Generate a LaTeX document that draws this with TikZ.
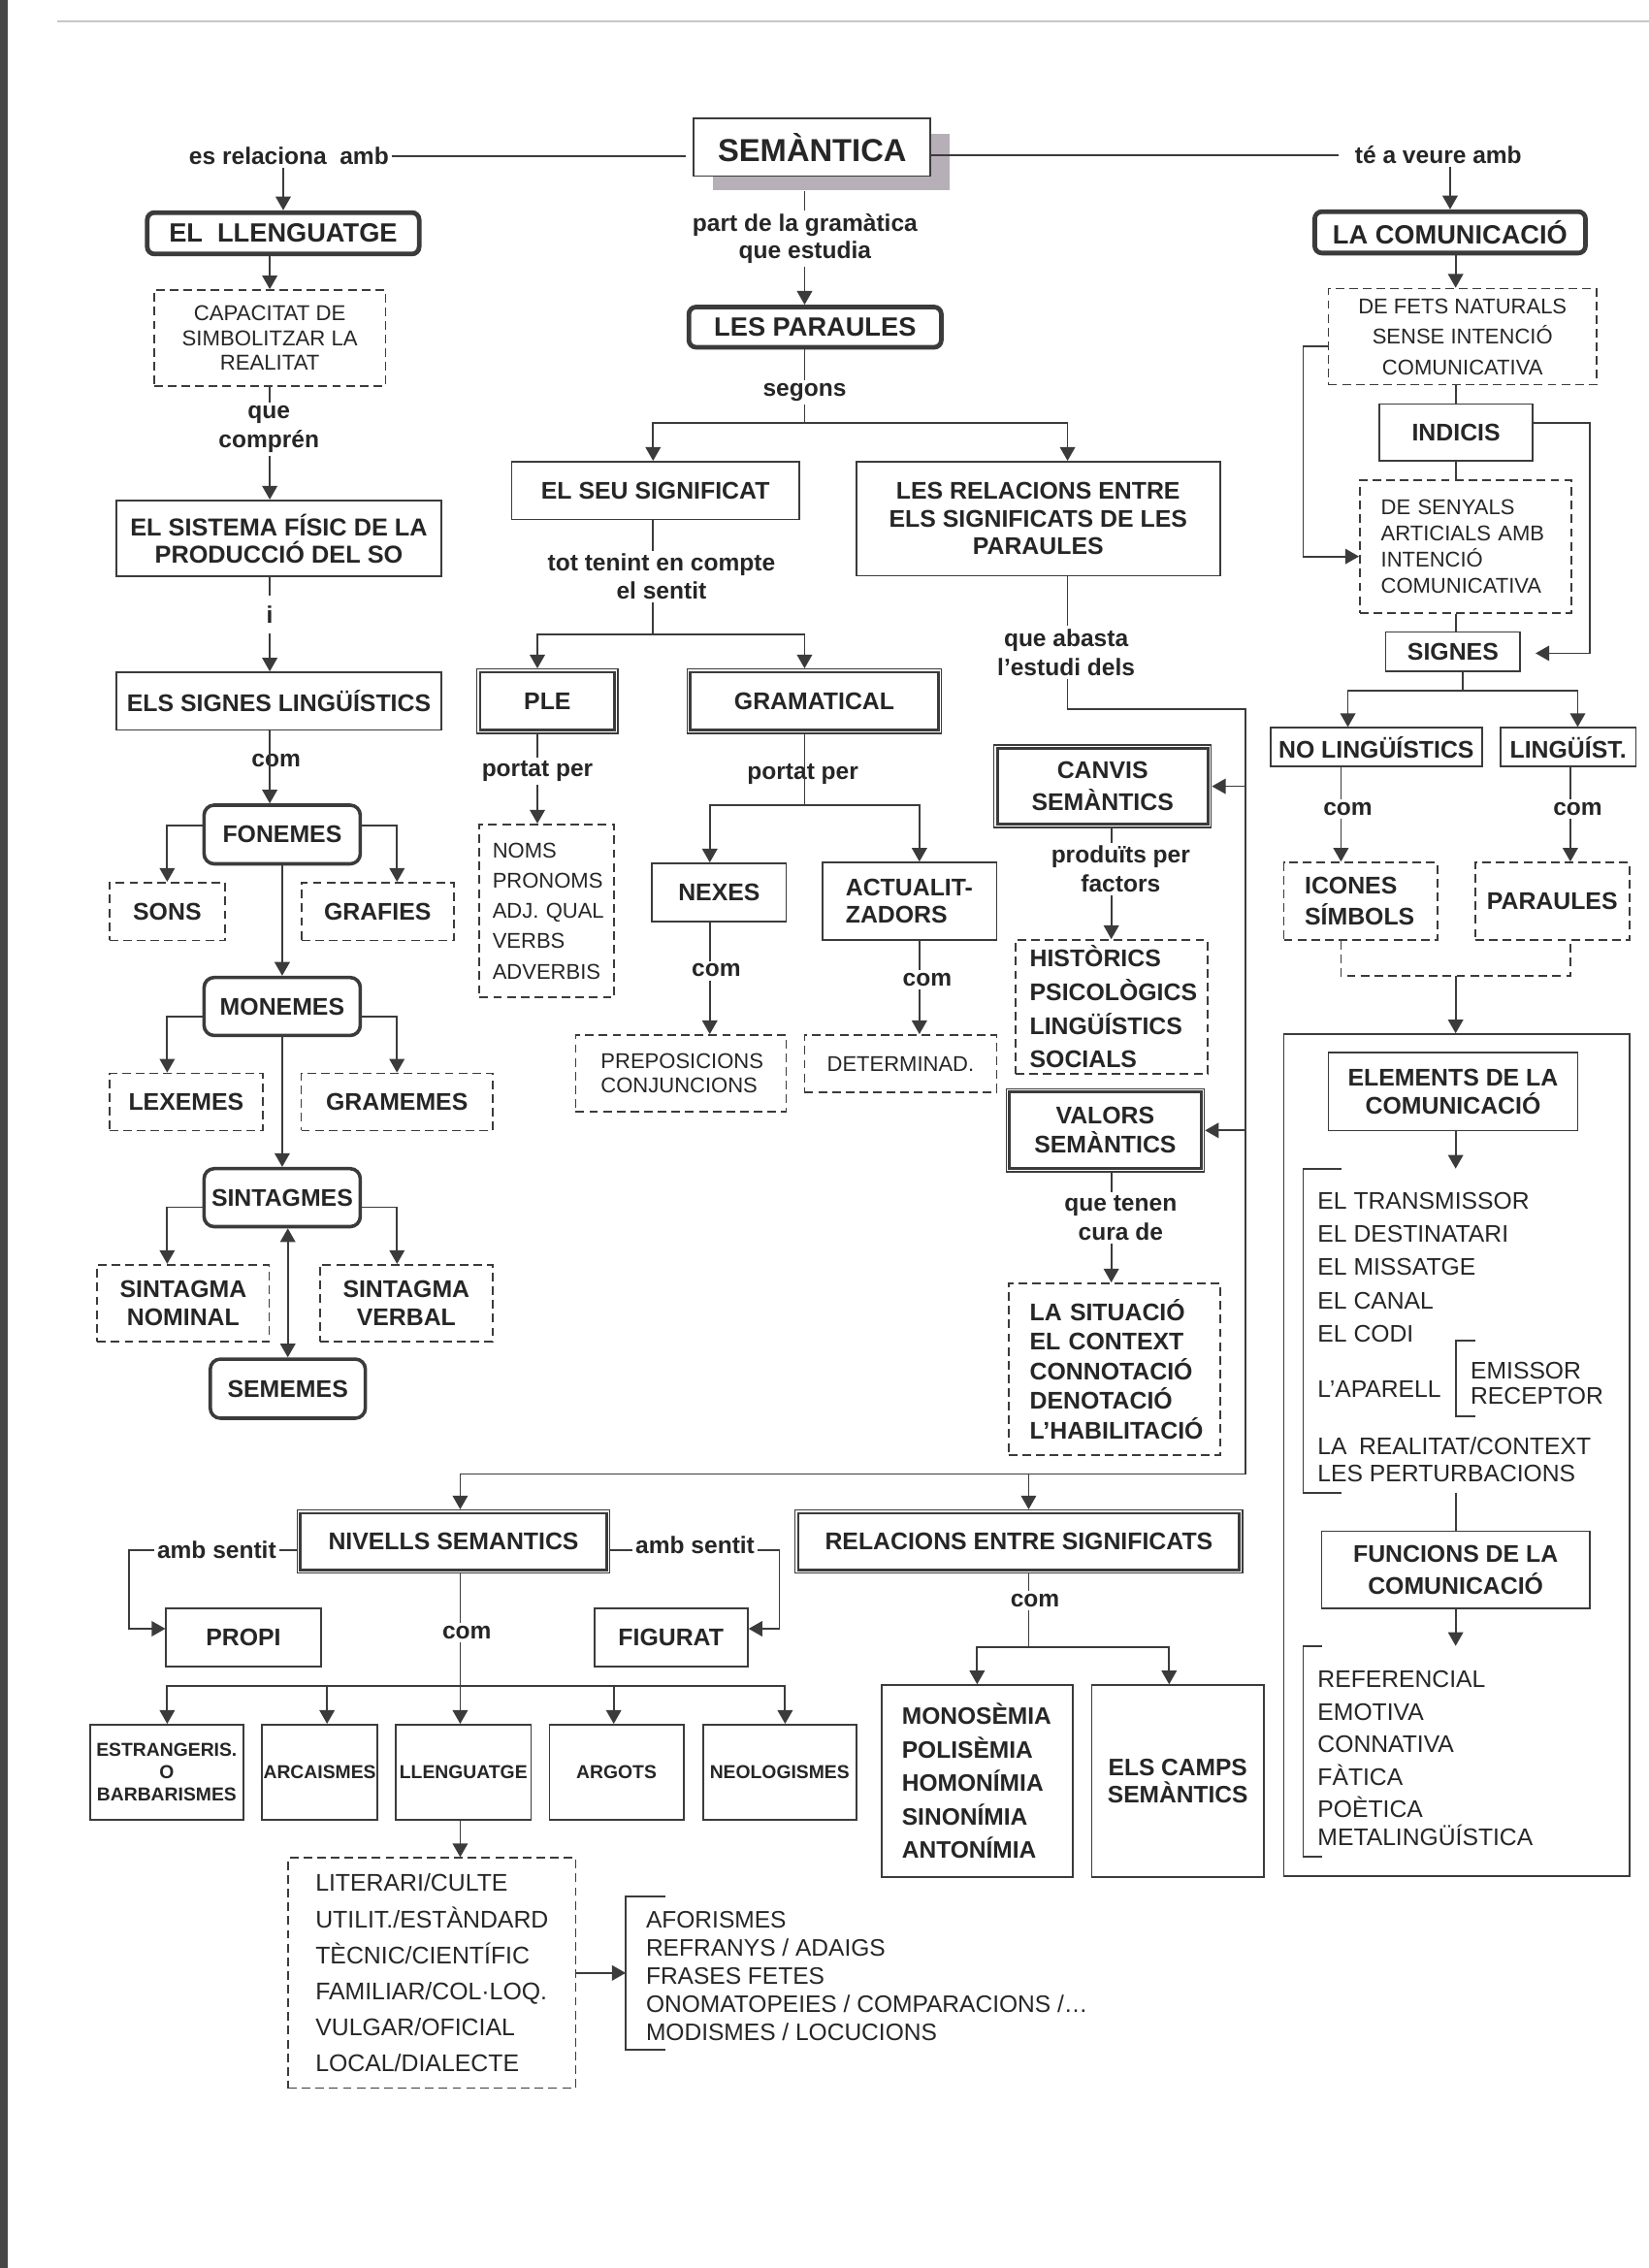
\documentclass[tikz,border=0pt]{standalone}
\usepackage{fontspec}
\setmainfont{Liberation Sans}
\usetikzlibrary{arrows.meta}
\definecolor{ink}{HTML}{262626}
\definecolor{lnc}{HTML}{3B3B3B}
\definecolor{shade}{HTML}{B6AFB7}
\newcommand\fsz[2]{\fontsize{#1}{#2}\selectfont}
\tikzset{
 every node/.style={text=ink},
 ln/.style={draw=lnc, line width=1.2pt},
 arr/.style={ln, -{Triangle[length=9.5pt,width=10.5pt]}},
 darr/.style={ln, {Triangle[length=9.5pt,width=10.5pt]}-{Triangle[length=9.5pt,width=10.5pt]}},
 dsh/.style={ln, dash pattern=on 6pt off 3.5pt},
 lbl/.style={font=\fsz{16.5}{20}\bfseries, align=center, inner sep=2pt},
 bx/.style 2 args={minimum width=#1, minimum height=#2, inner sep=0pt, align=center},
 tbox/.style={draw=lnc, line width=3.2pt, rounded corners=5pt, fill=white, font=\fsz{18.3}{22}\bfseries},
 rbox/.style={draw=lnc, line width=2.4pt, rounded corners=7pt, fill=white, font=\fsz{16.7}{20}\bfseries},
 pbox/.style={draw=lnc, line width=1.2pt, fill=white, font=\fsz{16.7}{20}\bfseries},
 dbox/.style={draw=lnc, line width=1.2pt, dash pattern=on 6pt off 3.5pt, fill=white, font=\fsz{16.7}{20}\bfseries},
 small/.style={pbox, font=\fsz{13}{15.5}\bfseries},
 dbl/.style={draw=lnc, line width=0.9pt, font=\fsz{16.7}{20}\bfseries,
   append after command={\pgfextra{\draw[lnc, line width=1.9pt]
     ([shift={(2.7pt,2.7pt)}]\tikzlastnode.south west) rectangle
     ([shift={(-2.7pt,-2.7pt)}]\tikzlastnode.north east);}}},
 lst/.style={anchor=west, align=left, inner sep=0pt, font=\fsz{16.6}{23}\selectfont},
}
\begin{document}
\hyphenpenalty=10000 \exhyphenpenalty=10000 \uchyph=0
\begin{tikzpicture}[x=1pt,y=-1pt]
\useasboundingbox (0,0) rectangle (1143,1572);
\fill[white] (0,0) rectangle (1143,1572);
\fill[black!72] (0,0) rectangle (5.5,1572);
\draw[black!22, line width=1.2pt] (40,14.6) -- (1143,14.6);

% ---------------- top ----------------
\node[bx={164pt}{39pt}, fill=shade] (semsh) at (576,112.5) {};
\node[bx={164pt}{40pt}, pbox, font=\fsz{22}{24}\bfseries] (sem) at (563,102) {SEMÀNTICA};
\node[lbl] (rel) at (200.3,108) {es relaciona\hspace{0.55em}amb};
\node[lbl] (tev) at (997,107.6) {té a veure amb};
\draw[ln, shorten >=5pt] (rel.east) -- (rel.east -| sem.west);
\draw[ln, shorten >=9pt] (sem.east |- tev.west) -- (tev.west);

% ---------------- left column ----------------
\node[bx={188.5pt}{28.7pt}, tbox] (llen) at (196.3,161.7) {EL\hspace{0.55em}LLENGUATGE};
\node[bx={160.4pt}{66.5pt}, dbox, font=\fsz{14.9}{17.3}\selectfont] (cap) at (187,234.3) {CAPACITAT DE\\SIMBOLITZAR LA\\REALITAT};
\node[lbl] (que) at (186.4,297.5) {que\\comprén};
\node[bx={225.5pt}{52.8pt}, pbox, font=\fsz{17}{19}\bfseries] (sis) at (193.3,373.2) {EL SISTEMA FÍSIC DE LA\\PRODUCCIÓ DEL SO};
\node[lbl] (i) at (187,425.8) {i};
\node[bx={225.5pt}{40pt}, pbox] (sig) at (193.3,486) {ELS SIGNES LINGÜÍSTICS};
\node[lbl] (com1) at (191.4,527) {com};
\node[bx={108.3pt}{40.7pt}, rbox] (fon) at (195.6,578.4) {FONEMES};
\node[bx={80.2pt}{40.1pt}, dbox] (sons) at (115.9,631.8) {SONS};
\node[bx={105.7pt}{40.1pt}, dbox] (graf) at (261.7,631.8) {GRAFIES};
\node[bx={108.3pt}{40.2pt}, rbox] (mon) at (195.6,697.6) {MONEMES};
\node[bx={106.4pt}{39.6pt}, dbox] (lex) at (129,763.8) {LEXEMES};
\node[bx={132.7pt}{39.6pt}, dbox] (gram) at (275.15,763.8) {GRAMEMES};
\node[bx={108.3pt}{40.2pt}, rbox] (sint) at (195.6,830.1) {SINTAGMES};
\node[bx={119.2pt}{53.1pt}, dbox, font=\fsz{16.7}{19.3}\bfseries] (snom) at (127,903.2) {SINTAGMA\\NOMINAL};
\node[bx={119.9pt}{53.1pt}, dbox, font=\fsz{16.7}{19.3}\bfseries] (sverb) at (281.6,903.2) {SINTAGMA\\VERBAL};
\node[bx={107.5pt}{41pt}, rbox] (seme) at (199.5,962.5) {SEMEMES};

\draw[arr] (llen.north |- rel.south) -- (llen.north);
\draw[arr] (llen.south -| cap.north) -- (cap.north);
\draw[ln] (cap.south) -- (cap.south |- que.north);
\draw[arr] (que.south -| cap.south) -- (cap.south |- sis.north);
\draw[ln, shorten >=5pt] (sis.south -| cap.south) -- (cap.south |- i.north);
\draw[arr, shorten <=5pt] (i.south -| cap.south) -- (cap.south |- sig.north);
\draw[arr] (sig.south -| cap.south) -- (cap.south |- fon.north);
\draw[arr] ([yshift=6.4pt]fon.west) -| (sons.north);
\draw[arr] ([yshift=6.4pt]fon.east) -| ([xshift=13.5pt]graf.north);
\draw[arr] (fon.south) -- (mon.north);
\draw[arr] ([yshift=-6.9pt]mon.west) -| ([xshift=-13.1pt]lex.north);
\draw[arr] ([yshift=-6.9pt]mon.east) -| (gram.north);
\draw[arr] (mon.south) -- (sint.north);
\draw[arr] ([yshift=-6.6pt]sint.west) -| ([xshift=-11.1pt]snom.north);
\draw[arr] ([yshift=-6.6pt]sint.east) -| ([xshift=-6.4pt]sverb.north);
\draw[darr] (seme.north |- sint.south) -- (seme.north);

% ---------------- middle column ----------------
\coordinate (spine) at (557.7,0);
\node[lbl, font=\fsz{16.5}{18.7}\bfseries] (pg) at (558,165.3) {part de la gramàtica\\que estudia};
\node[bx={175pt}{27.9pt}, tbox] (pars) at (565,226.75) {LES PARAULES};
\node[lbl] (seg) at (557.7,272) {segons};
\node[bx={199.4pt}{40pt}, pbox] (sig1) at (454.3,340) {EL SEU SIGNIFICAT};
\node[bx={252.2pt}{79pt}, pbox, font=\fsz{16.7}{19.2}\bfseries] (relb) at (719.6,359.5) {LES RELACIONS ENTRE\\ELS SIGNIFICATS DE LES\\PARAULES};
\node[lbl, font=\fsz{16.5}{19.6}\bfseries] (tt) at (458.5,399.8) {tot tenint en compte\\el sentit};
\node[bx={97.7pt}{44.7pt}, dbl] (ple) at (379.45,486.05) {PLE};
\node[bx={176.1pt}{44.7pt}, dbl] (gmt) at (564.45,486.05) {GRAMATICAL};
\node[lbl] (pp1) at (372.5,534.4) {portat per};
\node[lbl] (pp2) at (556.5,536.7) {portat per};
\node[bx={93.3pt}{120pt}, dbox, font=\fsz{14.8}{21}\selectfont, align=left, text width=75.3pt, inner xsep=9pt] (noms) at (379.05,631.4) {NOMS\\PRONOMS\\\mbox{ADJ. QUAL}\\VERBS\\ADVERBIS};
\node[bx={93pt}{40.2pt}, pbox] (nex) at (498.5,618.5) {NEXES};
\node[bx={120.4pt}{53.7pt}, pbox, font=\fsz{16.7}{18.6}\bfseries, align=left, text width=88.8pt, inner xsep=15.8pt] (act) at (630.6,624.65) {\mbox{ACTUALIT-}\\ZADORS};
\node[lbl] (com2) at (496.5,672.7) {com};
\node[lbl] (com3) at (642.7,679.2) {com};
\node[bx={146pt}{53.1pt}, dbox, font=\fsz{14.8}{17}\selectfont, align=left, text width=111pt, inner xsep=17.5pt] (prep) at (472,743.95) {PREPOSICIONS\\CONJUNCIONS};
\node[bx={133.1pt}{39.6pt}, dbox, font=\fsz{14.8}{17}\selectfont] (det) at (624.25,737.2) {DETERMINAD.};

\draw[ln] (semsh.south -| spine) -- (pg.north -| spine);
\draw[arr] (pg.south -| spine) -- (pars.north -| spine);
\draw[ln] (pars.south -| spine) -- (seg.north);
\coordinate (jseg) at (557.7,293);
\draw[ln] (seg.south) -- (jseg);
\draw[arr] (jseg) -| ([xshift=-1.6pt]sig1.north);
\draw[arr] (jseg) -| ([xshift=20.4pt]relb.north);
\coordinate (xs) at (452.7,0);
\draw[ln] (sig1.south -| xs) -- (tt.north -| xs);
\coordinate (jtt) at (452.7,439.5);
\draw[ln] (tt.south -| xs) -- (jtt);
\draw[arr] (jtt) -| ([xshift=-6.95pt]ple.north);
\draw[arr] (jtt) -| ([xshift=-6.75pt]gmt.north);
\draw[ln] (ple.south -| pp1.north) -- (pp1.north);
\draw[arr] (pp1.south) -- (pp1.south |- noms.north);
\coordinate (jgr) at (557.7,558);
\draw[ln] (gmt.south -| jgr) -- (jgr);
\draw[arr] (jgr) -| ([xshift=-6.5pt]nex.north);
\draw[arr] (jgr) -| ([xshift=6.7pt]act.north);
\coordinate (xn) at (492,0);
\draw[ln] (nex.south -| xn) -- (com2.north -| xn);
\draw[arr] (com2.south -| xn) -- (prep.north -| xn);
\coordinate (xa) at (637.3,0);
\draw[ln] (act.south -| xa) -- (com3.north -| xa);
\draw[arr] (com3.south -| xa) -- (det.north -| xa);

% ---------------- central right column ----------------
\node[lbl, font=\fsz{16.5}{20.4}\bfseries] (qa) at (739,452.4) {que abasta\\l’estudi dels};
\node[bx={150.6pt}{57.2pt}, dbl, font=\fsz{16.7}{22.6}\bfseries] (canv) at (764.3,545) {CANVIS\\SEMÀNTICS};
\node[lbl, font=\fsz{16.5}{19.9}\bfseries] (pf) at (776.8,602.25) {produïts per\\factors};
\node[bx={133.1pt}{92.6pt}, dbox, font=\fsz{16.7}{23.3}\bfseries, align=left, text width=113.3pt, inner xsep=9.9pt] (hist) at (770.45,697.8) {HISTÒRICS\\PSICOLÒGICS\\LINGÜÍSTICS\\SOCIALS};
\node[bx={137.4pt}{57.6pt}, dbl, font=\fsz{16.7}{20.3}\bfseries] (val) at (766.1,783.5) {VALORS\\SEMÀNTICS};
\node[lbl, font=\fsz{16.5}{19.8}\bfseries] (qt) at (776.8,844.1) {que tenen\\cura de};
\node[bx={146.5pt}{118.8pt}, dbox, font=\fsz{16.7}{20.5}\bfseries, align=left, text width=117.3pt, inner xsep=14.6pt] (sit) at (772.45,948.9) {\mbox{LA SITUACIÓ}\\\mbox{EL CONTEXT}\\CONNOTACIÓ\\DENOTACIÓ\\L’HABILITACIÓ};

\coordinate (xr) at (740,0);
\draw[ln] (relb.south -| xr) -- (qa.north -| xr);
\coordinate (c1) at (740,491.6);
\coordinate (c2) at (863.2,491.6);
\coordinate (c3) at (863.2,1021.6);
\coordinate (xc) at (770.3,0);
\draw[arr] (c2 |- canv.east) -- (canv.east);
\draw[arr] (c2 |- val.east) -- (val.east);
\draw[ln] (canv.south -| xc) -- (pf.north -| xc);
\draw[arr] (pf.south -| xc) -- (hist.north -| xc);
\draw[ln] (val.south -| xc) -- (qt.north -| xc);
\draw[arr] (qt.south -| xc) -- (sit.north -| xc);

% ---------------- bottom ----------------
\node[bx={216.9pt}{43.7pt}, dbl] (niv) at (314.35,1068.45) {NIVELLS SEMANTICS};
\node[bx={310.3pt}{43.7pt}, dbl] (rels) at (706.25,1068.45) {RELACIONS ENTRE SIGNIFICATS};
\node[lbl] (as1) at (150.2,1074.2) {amb sentit};
\node[lbl] (as2) at (481.8,1071) {amb sentit};
\node[bx={107.1pt}{40.2pt}, pbox] (propi) at (168.75,1135.1) {PROPI};
\node[bx={106.4pt}{40.2pt}, pbox] (fig) at (465.1,1135.1) {FIGURAT};
\node[lbl] (com4) at (323.6,1131.8) {com};
\node[bx={106.5pt}{65.9pt}, small] (est) at (115.55,1228.35) {ESTRANGERIS.\\O\\BARBARISMES};
\node[bx={80.2pt}{65.9pt}, small] (arc) at (221.6,1228.35) {ARCAISMES};
\node[bx={93.7pt}{65.9pt}, small] (llg) at (321.25,1228.35) {LLENGUATGE};
\node[bx={92.9pt}{65.9pt}, small] (arg) at (427.35,1228.35) {ARGOTS};
\node[bx={106.2pt}{65.9pt}, small] (neo) at (540.4,1228.35) {NEOLOGISMES};
\node[bx={199.3pt}{159.5pt}, dbox, font=\fsz{16.7}{25}\selectfont, align=left, text width=161.3pt, inner xsep=19pt] (lit) at (299.35,1367.55) {LITERARI/CULTE\\UTILIT./ESTÀNDARD\\TÈCNIC/CIENTÍFIC\\FAMILIAR/COL·LOQ.\\VULGAR/OFICIAL\\LOCAL/DIALECTE};
\node[lst, font=\fsz{16.5}{19.5}\selectfont] (afo) at (447.6,1369.5) {AFORISMES\\REFRANYS / ADAIGS\\FRASES FETES\\ONOMATOPEIES / COMPARACIONS /…\\MODISMES / LOCUCIONS};
\node[lbl] (com5) at (717.4,1109.5) {com};
\node[bx={132.6pt}{133pt}, pbox, font=\fsz{16.5}{23.2}\bfseries, align=left, text width=104.2pt, inner xsep=14.2pt] (mono) at (677.3,1234.5) {MONOSÈMIA\\POLISÈMIA\\HOMONÍMIA\\SINONÍMIA\\ANTONÍMIA};
\node[bx={119.2pt}{133pt}, pbox, font=\fsz{16.5}{19.4}\bfseries] (camps) at (816.4,1234.5) {ELS CAMPS\\SEMÀNTICS};

\coordinate (xv) at (319,0);
\coordinate (xrl) at (713,0);
\draw[arr] (qa.south -| xr) -- (c1) -- (c2) -- (c3) -| ([xshift=4.65pt]niv.north);
\draw[arr] (c3 -| xrl) -- (rels.north -| xrl);
\coordinate (yas) at (0,1074.3);
\coordinate (c4) at (89.3,0);
\coordinate (c5) at (540.2,0);
\draw[ln] (niv.west |- yas) -- (as1.east |- yas);
\draw[arr] (as1.west |- yas) -- (c4 |- yas) |- ([yshift=6.2pt]propi.west);
\draw[ln] (niv.east |- yas) -- (as2.west |- yas);
\draw[arr] (as2.east |- yas) -- (c5 |- yas) |- ([yshift=6.2pt]fig.east);
\draw[ln] (niv.south -| xv) -- (com4.north -| xv);
\coordinate (j4) at (319,1168.7);
\draw[arr] (com4.south -| xv) -- (llg.north -| xv);
\draw[arr] (j4) -| ([xshift=0.35pt]est.north);
\draw[arr] (j4) -| ([xshift=5.1pt]arc.north);
\draw[arr] (j4) -| ([xshift=-1.95pt]arg.north);
\draw[arr] (j4) -| ([xshift=3.8pt]neo.north);
\draw[arr] (llg.south -| xv) -- (lit.north -| xv);
\coordinate (bra) at (433.7,1367.5);
\draw[arr] (lit.east |- bra) -- (bra);
\draw[ln] (461,1314.3) -- (433.7,1314.3) -- (433.7,1420.6) -- (461,1420.6);
\draw[ln] (rels.south -| xrl) -- (com5.north -| xrl);
\coordinate (j5) at (713,1141.7);
\draw[ln] (com5.south -| xrl) -- (j5);
\draw[arr] (j5) -| (mono.north);
\draw[arr] (j5) -| ([xshift=-6pt]camps.north);

% ---------------- right column ----------------
\node[bx={187.7pt}{28.7pt}, tbox] (comu) at (1005.15,161.05) {LA COMUNICACIÓ};
\node[bx={185.9pt}{66.6pt}, dbox, font=\fsz{14.8}{21.2}\selectfont] (fets) at (1013.75,233.3) {DE FETS NATURALS\\SENSE INTENCIÓ\\COMUNICATIVA};
\node[bx={106.4pt}{39.6pt}, pbox] (ind) at (1009.3,299.8) {INDICIS};
\node[bx={146.6pt}{92pt}, dbox, font=\fsz{14.8}{18.2}\selectfont, align=left, text width=117.4pt, inner xsep=14.6pt] (sen) at (1015.9,379) {\mbox{DE SENYALS}\\\mbox{ARTICIALS AMB}\\INTENCIÓ\\COMUNICATIVA};
\node[bx={93.3pt}{27.4pt}, pbox] (signes) at (1007.15,451.7) {SIGNES};
\node[bx={146.5pt}{26.7pt}, pbox] (nol) at (953.95,517.85) {NO LINGÜÍSTICS};
\node[bx={94pt}{26.7pt}, pbox] (lin) at (1087,517.85) {LINGÜÍST.};
\node[lbl] (com6) at (934.3,560.8) {com};
\node[lbl] (com7) at (1093.6,560.8) {com};
\node[bx={106.3pt}{53.7pt}, dbox, font=\fsz{16.7}{21.8}\bfseries, align=left, text width=77.3pt, inner xsep=14.5pt] (icon) at (943.05,624.65) {ICONES\\SÍMBOLS};
\node[bx={106.9pt}{53.7pt}, dbox] (par) at (1075.95,624.65) {PARAULES};
\node[bx={239.5pt}{583.8pt}, draw=lnc, line width=1.2pt] (big) at (1009.65,1008.7) {};
\node[bx={172.8pt}{53.9pt}, pbox, font=\fsz{16.7}{19.3}\bfseries] (elem) at (1007.2,756.65) {ELEMENTS DE LA\\COMUNICACIÓ};
\node[lst] (el1) at (913.2,878.35) {EL TRANSMISSOR\\EL DESTINATARI\\EL MISSATGE\\EL CANAL\\EL CODI};
\node[lst] (apar) at (913.2,962.8) {L’APARELL};
\node[lst, font=\fsz{16.6}{17.6}\selectfont] (emr) at (1019.2,958.8) {EMISSOR\\RECEPTOR};
\node[lst, font=\fsz{16.6}{18.6}\selectfont] (real) at (913.2,1011.7) {LA\hspace{0.5em}REALITAT/CONTEXT\\LES PERTURBACIONS};
\node[bx={185.8pt}{53.7pt}, pbox, font=\fsz{16.7}{22.5}\bfseries] (func) at (1009,1088.15) {FUNCIONS DE LA\\COMUNICACIÓ};
\node[lst, font=\fsz{16.6}{22.5}\selectfont] (fl) at (913.2,1218.75) {REFERENCIAL\\EMOTIVA\\CONNATIVA\\FÀTICA\\POÈTICA\\[-3pt]METALINGÜÍSTICA};

\draw[arr] (comu.north |- tev.south) -- (comu.north);
\coordinate (rx) at (1009,0);
\draw[arr] (comu.south -| rx) -- (fets.north -| rx);
\draw[ln] (fets.south -| rx) -- (ind.north -| rx);
\draw[ln] (ind.south -| rx) -- (sen.north -| rx);
\draw[ln] (sen.south -| rx) -- (signes.north -| rx);
\coordinate (bl) at (903.3,0);
\coordinate (fw) at ([yshift=-6.7pt]fets.west);
\draw[arr] (fw) -- (fw -| bl) |- ([yshift=-6.7pt]sen.west);
\coordinate (br) at (1101.9,0);
\coordinate (ie) at ([yshift=6.8pt]ind.east);
\draw[arr, shorten >=10pt] (ie) -- (ie -| br) |- ([yshift=-1.1pt]signes.east);
\coordinate (j6) at (1013.7,478.5);
\draw[ln] (signes.south -| j6) -- (j6);
\draw[arr] (j6) -| ([xshift=-19.65pt]nol.north);
\draw[arr] (j6) -| ([xshift=6.6pt]lin.north);
\coordinate (xi) at (929.5,0);
\coordinate (xp) at (1088.5,0);
\draw[ln] (nol.south -| xi) -- (com6.north -| xi);
\draw[arr] (com6.south -| xi) -- (icon.north -| xi);
\draw[ln] (lin.south -| xp) -- (com7.north -| xp);
\draw[arr] (com7.south -| xp) -- (par.north -| xp);
\coordinate (j7) at (1009,676.5);
\draw[dsh] (icon.south -| xi) -- (j7 -| xi) -- (j7 -| xp) -- (par.south -| xp);
\draw[arr] (j7) -- (big.north -| j7);
\coordinate (b1t) at (1009,810);
\draw[arr] (elem.south -| b1t) -- (b1t);
\draw[ln] (929.9,810) -- (903.3,810) -- (903.3,1034.6) -- (929.9,1034.6);
\draw[ln] (1022.9,929) -- (1009,929) -- (1009,981.5) -- (1022.9,981.5);
\coordinate (b1b) at (1009,1034.6);
\draw[ln] (b1b) -- (func.north -| b1b);
\coordinate (b2t) at (1009,1140.8);
\draw[arr] (func.south -| b2t) -- (b2t);
\draw[ln] (916.1,1140.8) -- (903.3,1140.8) -- (903.3,1287) -- (916.1,1287);
\end{tikzpicture}
\end{document}
